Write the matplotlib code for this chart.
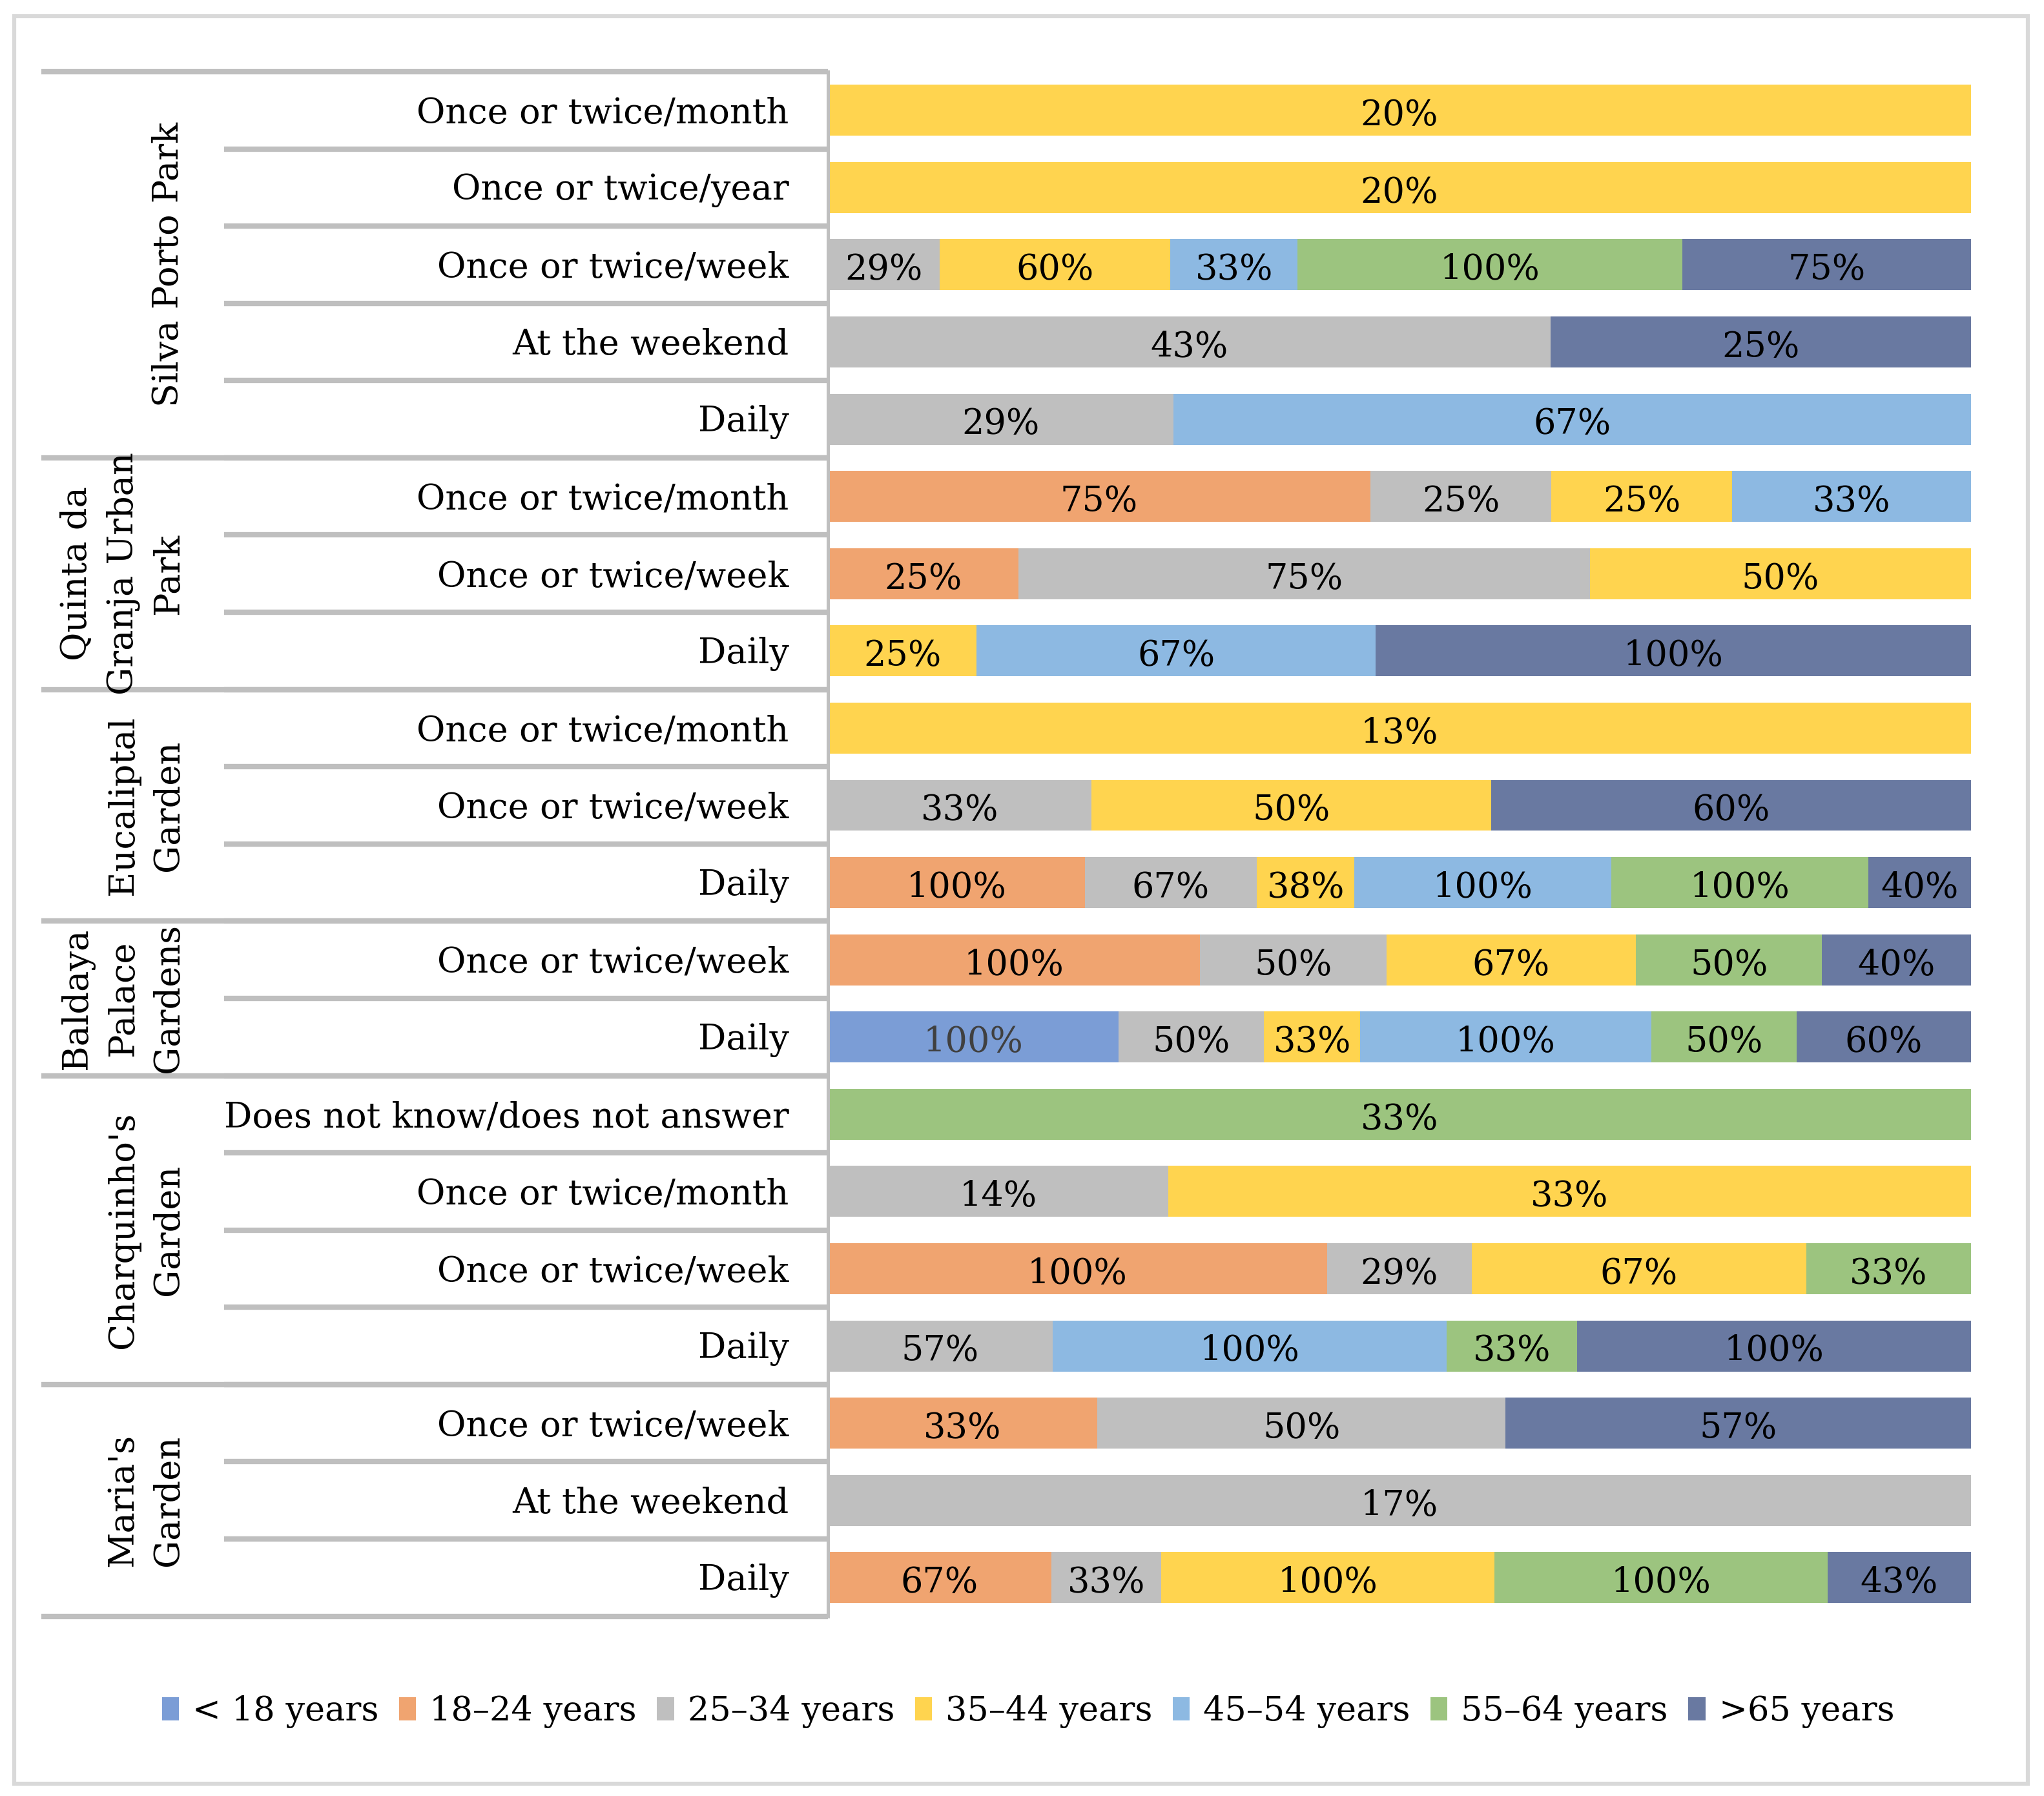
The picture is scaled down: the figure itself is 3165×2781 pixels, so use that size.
import numpy as np
import matplotlib
matplotlib.use("Agg")
import matplotlib.pyplot as plt
from matplotlib.patches import Rectangle, Patch

plt.rcParams["font.family"] = ["DejaVu Serif"]

# ---- data ----
groups = ["Silva Porto Park", "Quinta da\nGranja Urban\nPark", "Eucaliptal\nGarden",
          "Baldaya\nPalace\nGardens", "Charquinho's\nGarden", "Maria's\nGarden"]
group_sizes = [5, 3, 3, 2, 4, 3]

categories = [
    "Once or twice/month", "Once or twice/year", "Once or twice/week", "At the weekend", "Daily",
    "Once or twice/month", "Once or twice/week", "Daily",
    "Once or twice/month", "Once or twice/week", "Daily",
    "Once or twice/week", "Daily",
    "Does not know/does not answer", "Once or twice/month", "Once or twice/week", "Daily",
    "Once or twice/week", "At the weekend", "Daily",
]

age_labels = ["< 18 years", "18\u201324 years", "25\u201334 years", "35\u201344 years",
              "45\u201354 years", "55\u201364 years", ">65 years"]

under_18 = [0, 0, 0, 0, 0, 0, 0, 0, 0, 0, 0, 0, 100, 0, 0, 0, 0, 0, 0, 0]
age_18_24 = [0, 0, 0, 0, 0, 75, 25, 0, 0, 0, 100, 100, 0, 0, 0, 100, 0, 33, 0, 67]
age_25_34 = [0, 0, 29, 43, 29, 25, 75, 0, 0, 33, 67, 50, 50, 0, 14, 29, 57, 50, 17, 33]
age_35_44 = [20, 20, 60, 0, 0, 25, 50, 25, 13, 50, 38, 67, 33, 0, 33, 67, 0, 0, 0, 100]
age_45_54 = [0, 0, 33, 0, 67, 33, 0, 67, 0, 0, 100, 0, 100, 0, 0, 0, 100, 0, 0, 0]
age_55_64 = [0, 0, 100, 0, 0, 0, 0, 0, 0, 0, 100, 50, 50, 33, 0, 33, 33, 0, 0, 100]
over_65 = [0, 0, 75, 25, 0, 0, 0, 100, 0, 60, 40, 40, 60, 0, 0, 0, 100, 57, 0, 43]

series = [under_18, age_18_24, age_25_34, age_35_44, age_45_54, age_55_64, over_65]
colors = ["#7B9DD6", "#F0A470", "#BFBFBF", "#FFD44F", "#8DB9E2", "#9CC47F", "#6979A1"]
label_colors = ["#404040", "black", "black", "black", "black", "black", "black"]

# ---- figure ----
fig = plt.figure(figsize=(10.55, 9.27), dpi=300)
ax = fig.add_axes([0.405, 0.1001, 0.5593, 0.86])

vals = np.array(series, dtype=float)
totals = vals.sum(axis=0)
shares = vals / totals
y = np.arange(len(categories))
left = np.zeros(len(categories))

FS = 13
for k, (sh, raw) in enumerate(zip(shares, vals)):
    ax.barh(y, sh, left=left, height=0.66, color=colors[k], linewidth=0)
    for i in range(len(y)):
        if raw[i] > 0:
            ax.text(left[i] + sh[i] / 2, y[i] + 0.07, f"{int(raw[i])}%",
                    ha="center", va="center", fontsize=FS, color=label_colors[k])
    left += sh

ax.set_xlim(0, 1)
ax.set_ylim(len(categories) - 0.5, -0.5)
ax.axis("off")

# ---- multi-level category axis ----
tr = ax.get_yaxis_transform()
line_c = "#BFBFBF"
x_cat = -0.528
x_grp = -0.688

for i, cat in enumerate(categories):
    ax.text(-0.034, i + 0.04, cat, transform=tr, ha="right", va="center", fontsize=FS)

# category separators
for i in range(1, len(categories)):
    ax.plot([x_cat, 0], [i - 0.5, i - 0.5], transform=tr, color=line_c,
            lw=2, clip_on=False, solid_capstyle="butt")

# group separators and labels
start = 0
ax.plot([x_grp, 0], [-0.5, -0.5], transform=tr, color=line_c, lw=2,
        clip_on=False, solid_capstyle="butt")
for g, n in zip(groups, group_sizes):
    end = start + n
    ax.plot([x_grp, 0], [end - 0.5, end - 0.5], transform=tr, color=line_c, lw=2,
            clip_on=False, solid_capstyle="butt")
    ax.text(-0.562, (start + end - 1) / 2, g, transform=tr, rotation=90,
            ha="right", va="center", multialignment="center", fontsize=FS,
            linespacing=1.45)
    start = end

ax.plot([0, 0], [-0.5, len(categories) - 0.5], transform=tr, color=line_c,
        lw=1.2, clip_on=False)

# ---- legend ----
handles = [Patch(facecolor=c, edgecolor="none") for c in colors]
fig.legend(handles, age_labels, loc="center", bbox_to_anchor=(0.503, 0.047),
           ncol=7, frameon=False, fontsize=12.6, handlelength=0.5, handleheight=0.7,
           handletextpad=0.4, columnspacing=0.6)

# outer border
fig.patches.append(Rectangle((0.007, 0.007), 0.985, 0.984, transform=fig.transFigure,
                             fill=False, edgecolor="#D9D9D9", lw=1.5))

fig.savefig("out.png", dpi=300)
